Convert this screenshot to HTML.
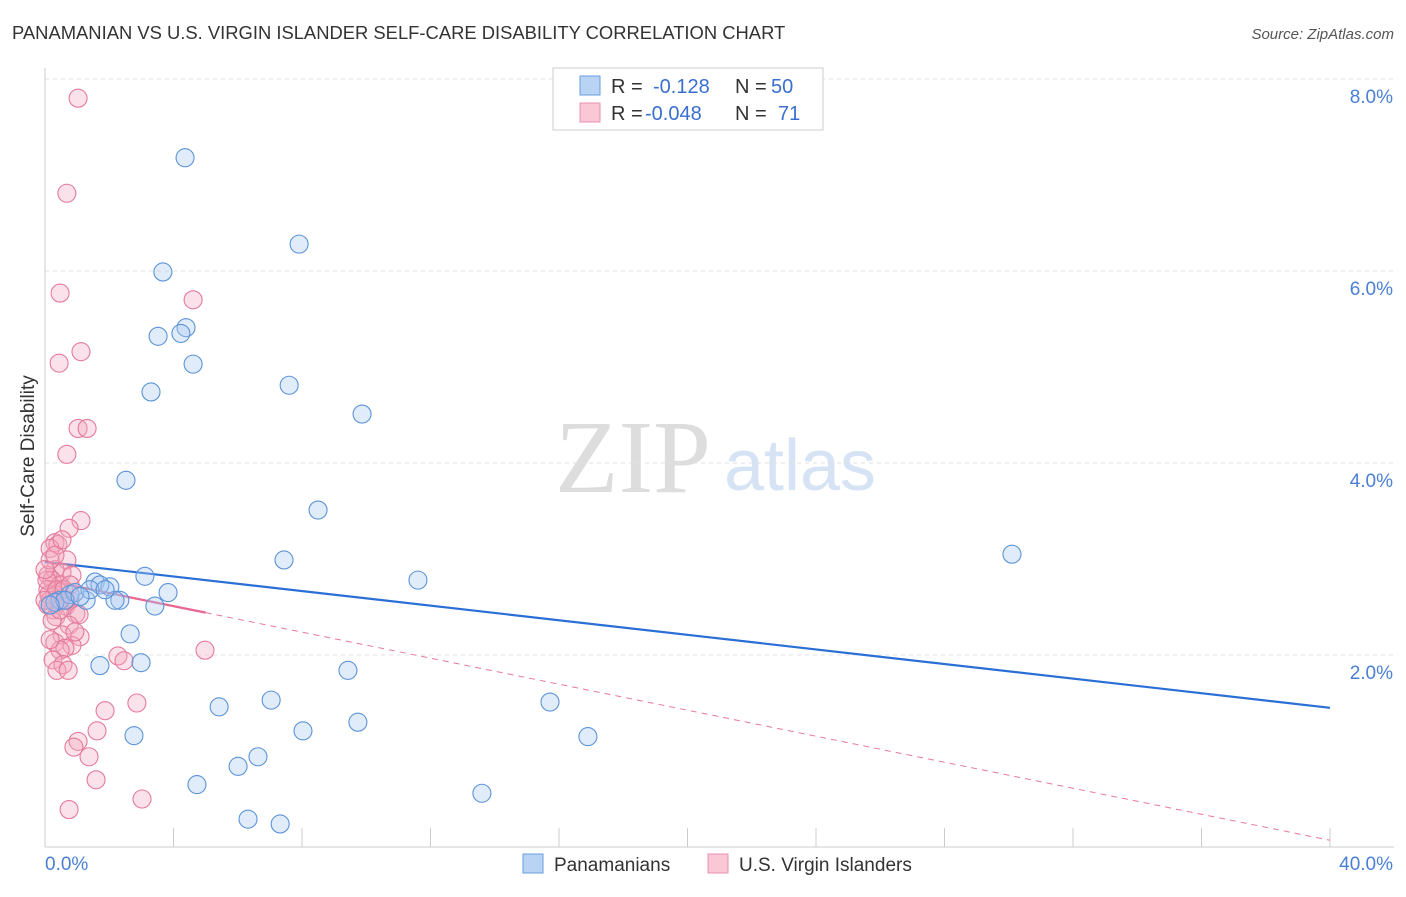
<!DOCTYPE html>
<html><head><meta charset="utf-8"><style>
body{margin:0;background:#fff;font-family:"Liberation Sans",sans-serif}
</style></head><body>
<svg width="1406" height="892" viewBox="0 0 1406 892" xmlns="http://www.w3.org/2000/svg" font-family="Liberation Sans, sans-serif">
<text x="12" y="39" font-size="18.4" fill="#333">PANAMANIAN VS U.S. VIRGIN ISLANDER SELF-CARE DISABILITY CORRELATION CHART</text>
<text x="1394" y="39" font-size="15" fill="#555" text-anchor="end" font-style="italic">Source: ZipAtlas.com</text>
<text transform="translate(34,456) rotate(-90)" font-size="19" fill="#333" text-anchor="middle">Self-Care Disability</text>
<g><text x="633" y="492" font-size="104" fill="#ddd" text-anchor="middle" font-family="Liberation Serif, serif">ZIP</text><text x="800" y="490" font-size="72" fill="#d6e3f5" text-anchor="middle">atlas</text></g>
<g id="grid"></g><g id="axes"></g><g id="lines"></g><g id="pts"></g>
<g>
<rect x="553" y="68" width="270" height="62" fill="#fff" stroke="#ccc"/>
<rect x="580" y="76" width="20" height="19" fill="#b9d3f5" stroke="#6a9ee0"/>
<rect x="580" y="103" width="20" height="19" fill="#f9c7d6" stroke="#e891ad"/>
<text x="611" y="93" font-size="20" fill="#333">R = </text><text x="653" y="93" font-size="20" fill="#3a6fd0">-0.128</text>
<text x="735" y="93" font-size="20" fill="#333">N = </text><text x="771" y="93" font-size="20" fill="#3a6fd0">50</text>
<text x="611" y="120" font-size="20" fill="#333">R = </text><text x="645" y="120" font-size="20" fill="#3a6fd0">-0.048</text>
<text x="735" y="120" font-size="20" fill="#333">N = </text><text x="778" y="120" font-size="20" fill="#3a6fd0">71</text>
</g>
<g>
<rect x="523" y="854" width="20" height="19" fill="#b9d3f5" stroke="#6a9ee0"/>
<text x="554" y="871" font-size="19" fill="#333">Panamanians</text>
<rect x="708" y="854" width="20" height="19" fill="#f9c7d6" stroke="#e891ad"/>
<text x="739" y="871" font-size="19" fill="#333">U.S. Virgin Islanders</text>
</g>
</svg>
<script>
const blueX=[4.36,7.91,3.67,4.39,3.52,4.23,4.61,7.60,3.30,9.87,2.52,8.50,7.44,30.10,3.11,11.61,1.56,2.02,1.71,3.83,2.33,2.18,1.28,0.47,0.31,0.78,3.42,2.65,1.71,2.99,9.43,15.72,7.04,5.42,2.77,8.03,9.74,16.90,6.63,6.01,4.73,13.60,6.32,7.32,0.93,0.62,0.16,1.40,1.09,1.87];
const blueY=[7.18,6.28,5.99,5.41,5.32,5.35,5.03,4.81,4.74,4.51,3.82,3.51,2.99,3.05,2.82,2.78,2.76,2.71,2.73,2.65,2.57,2.57,2.57,2.57,2.55,2.63,2.51,2.22,1.89,1.92,1.84,1.51,1.53,1.46,1.16,1.21,1.30,1.15,0.94,0.84,0.65,0.56,0.29,0.24,2.65,2.57,2.52,2.68,2.61,2.68];
const pinkX=[1.03,0.68,0.47,4.61,1.12,0.44,1.03,1.31,0.68,1.12,0.75,0.31,0.40,0.16,0.68,0.31,0.53,0.84,0.09,0.22,0.47,0.09,0.31,0.16,0.47,0.78,0.09,0.25,0.40,0.65,0.96,0.34,1.06,0.75,1.09,0.53,0.84,0.31,0.62,0.47,0.25,0.56,0.37,0.72,4.98,2.27,2.46,2.86,1.87,1.62,1.03,0.90,1.37,1.59,3.02,0.75,0.16,0.12,0.22,0.06,0.37,0.59,0.78,0.0,0.47,0.16,0.93,0.0,0.31,0.53,0.65];
const pinkY=[7.80,6.81,5.77,5.70,5.16,5.04,4.36,4.36,4.09,3.40,3.32,3.17,3.15,3.11,2.99,2.89,2.86,2.83,2.83,2.78,2.73,2.68,2.63,2.57,2.59,2.57,2.52,2.47,2.55,2.51,2.43,2.40,2.42,2.31,2.19,2.21,2.10,2.13,2.07,2.05,1.95,1.90,1.84,1.84,2.05,1.99,1.94,1.50,1.42,1.21,1.10,1.04,0.94,0.70,0.50,0.39,2.99,2.63,2.36,2.78,2.68,2.68,2.73,2.57,2.47,2.16,2.24,2.89,3.04,3.20,2.57];
const yTicks=[2,4,6,8];
const yTickLabels=["2.0%","4.0%","6.0%","8.0%"];
const xTickVals=[0,4,8,12,16,20,24,28,32,36,40];
const blueTrend=[2.97,1.45];
const pinkTrend=[2.78,0.07];
const pinkSolidEnd=5;
const NS="http://www.w3.org/2000/svg";
const X=v=>45+v*32.125, Y=v=>847-v*96;
function mk(p,t,a){const e=document.createElementNS(NS,t);for(const k in a)e.setAttribute(k,a[k]);p.appendChild(e);return e;}
const grid=document.getElementById('grid'),axes=document.getElementById('axes');
yTicks.forEach((v,i)=>{
 const l=mk(grid,'line',{x1:45,x2:1394,y1:Y(v),y2:Y(v),stroke:'#e2e2e2','stroke-dasharray':'4,4'});
 
 
 const t=mk(axes,'text',{x:1393,y:Y(v)+24,'font-size':19,fill:'#4a7fd4','text-anchor':'end'});
 t.textContent=yTickLabels[i];
 
 
});
const xa=mk(axes,'line',{x1:45,x2:1394,y1:847,y2:847,stroke:'#ccc'});


const ya=mk(axes,'line',{x1:45,x2:45,y1:68,y2:847,stroke:'#ccc'});


xTickVals.forEach(v=>{const t=mk(axes,'line',{x1:X(v),x2:X(v),y1:828,y2:847,stroke:'#ccc'});
 
 });
const x0=mk(axes,'text',{x:45,y:870,'font-size':19,fill:'#4a7fd4'});x0.textContent='0.0%';


const x1=mk(axes,'text',{x:1393,y:870,'font-size':19,fill:'#4a7fd4','text-anchor':'end'});x1.textContent='40.0%';


const pts=document.getElementById('pts'),lines=document.getElementById('lines');
function dots(xs,ys,fill,stroke,name){xs.forEach((x,i)=>{const c=mk(pts,'circle',{cx:X(x),cy:Y(ys[i]),r:9,fill:fill,'fill-opacity':0.35,stroke:stroke,'stroke-width':1.1});
 
 });}
dots(pinkX,pinkY,'#f4a9c0','#e57a9a','usvi-point');
dots(blueX,blueY,'#a8c8f0','#5b93d8','panamanian-point');
const ty=(t,x)=>t[0]+(t[1]-t[0])*x/40;
const bl=mk(lines,'line',{x1:X(0),y1:Y(ty(blueTrend,0)),x2:X(40),y2:Y(ty(blueTrend,40)),stroke:'#2a6fd6','stroke-width':2.2});


const pd=mk(lines,'line',{x1:X(pinkSolidEnd),y1:Y(ty(pinkTrend,pinkSolidEnd)),x2:X(40),y2:Y(ty(pinkTrend,40)),stroke:'#e8799c','stroke-width':1,'stroke-dasharray':'6,5'});


const ps=mk(lines,'line',{x1:X(0),y1:Y(ty(pinkTrend,0)),x2:X(pinkSolidEnd),y2:Y(ty(pinkTrend,pinkSolidEnd)),stroke:'#e8668f','stroke-width':2.2});


</script>
</body></html>
